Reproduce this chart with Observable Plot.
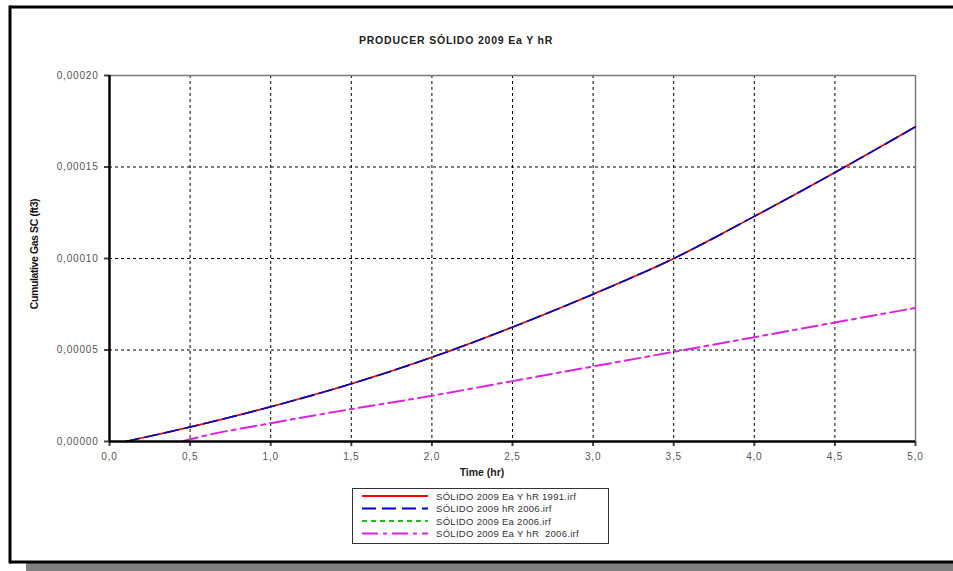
<!DOCTYPE html>
<html>
<head>
<meta charset="utf-8">
<script src="https://cdn.jsdelivr.net/npm/d3@7"></script>
<script src="https://cdn.jsdelivr.net/npm/@observablehq/plot@0.6"></script>
<style>
  html, body { margin: 0; padding: 0; background: #fff; }
  #chart { position: relative; width: 953px; height: 571px; overflow: hidden; }
  svg { font-family: "Liberation Sans", Arial, sans-serif; }
</style>
</head>
<body>
<div id="chart"></div>
<script>
// ---- data ----
const titleText = "PRODUCER SÓLIDO 2009 Ea Y hR";
const xLabel = "Time (hr)";
const yLabel = "Cumulative Gas SC (ft3)";
const xTicks = [0, 0.5, 1, 1.5, 2, 2.5, 3, 3.5, 4, 4.5, 5];
const yTicks = [0, 0.00005, 0.0001, 0.00015, 0.0002];

const seriesNames = [
  "SÓLIDO 2009 Ea Y hR 1991.irf",
  "SÓLIDO 2009 hR 2006.irf",
  "SÓLIDO 2009 Ea 2006.irf",
  "SÓLIDO 2009 Ea Y hR  2006.irf"
];
const seriesColors = ["#ff0000", "#0000cc", "#22bb22", "#dd22dd"];
const seriesDash = ["none", "14,6", "5,4", "16,5,4,5"];

const timeA = [0.1, 0.5, 1.0, 1.5, 2.0, 2.5, 3.0, 3.5, 4.0, 4.5, 5.0];
const gasA  = [0, 0.0000079, 0.000019, 0.0000315, 0.000046, 0.0000625, 0.0000805, 0.0001, 0.000123, 0.000147, 0.000172];
const timeB = [0.45, 0.5, 1.0, 1.5, 2.0, 2.5, 3.0, 3.5, 4.0, 4.5, 5.0];
const gasB  = [0, 0.0000012, 0.00001, 0.0000177, 0.000025, 0.000033, 0.000041, 0.000049, 0.000057, 0.000065, 0.000073];

// ---- build table ----
const rowsA = timeA.map((t, i) => ({t, v: gasA[i]}));
const rowsB = timeB.map((t, i) => ({t, v: gasB[i]}));
const comma = (f) => (d) => d3.format(f)(d).replace(".", ",");

const W = 953, H = 571;
const mL = 109, mR = 38, mT = 75, mB = 130;

const lineOpts = (k) => ({
  x: "t", y: "v", stroke: seriesColors[k], strokeWidth: k === 3 ? 2 : 1.6,
  strokeDasharray: seriesDash[k] === "none" ? null : seriesDash[k],
  curve: "monotone-x"
});

const plot = Plot.plot({
  width: W, height: H,
  marginLeft: mL, marginRight: mR, marginTop: mT, marginBottom: mB,
  style: {background: "transparent", fontSize: "10px", color: "#444"},
  x: {domain: [0, 5], ticks: xTicks, tickFormat: comma(".1f"), label: null},
  y: {domain: [0, 0.0002], ticks: yTicks, tickFormat: comma(".5f"), label: null},
  marks: [
    Plot.gridX(xTicks.filter(d => d > 0 && d < 5), {stroke: "#000", strokeOpacity: 1, strokeDasharray: "3,3", strokeWidth: 1}),
    Plot.gridY(yTicks.filter(d => d > 0 && d < 0.0002), {stroke: "#000", strokeOpacity: 1, strokeDasharray: "3,3", strokeWidth: 1}),
    Plot.ruleY([0.0002], {stroke: "#777", strokeWidth: 1.5}),
    Plot.ruleX([5], {stroke: "#777", strokeWidth: 1.5}),
    Plot.axisX({ticks: xTicks, tickFormat: comma(".1f"), tickSize: 5, tickPadding: 6, strokeWidth: 2, fill: "#555", fontSize: 10, label: null}),
    Plot.axisY({ticks: yTicks, tickFormat: comma(".5f"), tickSize: 5, tickPadding: 6, strokeWidth: 2, fill: "#555", fontSize: 10, label: null}),
    Plot.line(rowsA, lineOpts(2)),
    Plot.line(rowsA, lineOpts(0)),
    Plot.line(rowsA, lineOpts(1)),
    Plot.line(rowsB, lineOpts(3)),
    Plot.ruleX([0], {stroke: "#000", strokeWidth: 2.5}),
    Plot.ruleY([0], {stroke: "#000", strokeWidth: 2.5})
  ]
});

document.getElementById("chart").appendChild(plot);

const svg = d3.select(plot);
svg.selectAll("[aria-label='x-axis tick label'] text, [aria-label='y-axis tick label'] text").attr("letter-spacing", "0.8");

// outer frame
const frame = svg.append("g");
frame.append("rect").attr("x", 26).attr("y", 563).attr("width", W - 26).attr("height", 8).attr("fill", "#808080");
frame.append("line").attr("x1", 10).attr("x2", W).attr("y1", 7).attr("y2", 7).attr("stroke", "#000").attr("stroke-width", 3);
frame.append("line").attr("x1", 10).attr("x2", W).attr("y1", 562).attr("y2", 562).attr("stroke", "#000").attr("stroke-width", 3);
frame.append("line").attr("x1", 10).attr("x2", 10).attr("y1", 5.5).attr("y2", 563.5).attr("stroke", "#000").attr("stroke-width", 3);

// title and axis labels
svg.append("text").attr("x", 456).attr("y", 44).attr("text-anchor", "middle")
  .attr("font-size", 10.5).attr("font-weight", "bold").attr("letter-spacing", "0.8").attr("fill", "#222")
  .text(titleText);
svg.append("text").attr("x", 482).attr("y", 476).attr("text-anchor", "middle")
  .attr("font-size", 10.5).attr("font-weight", "bold").attr("fill", "#222")
  .text(xLabel);
svg.append("text").attr("transform", "translate(38,254) rotate(-90)").attr("text-anchor", "middle")
  .attr("font-family", "'Liberation Sans Narrow', 'Arial Narrow', sans-serif")
  .attr("font-size", 10.5).attr("font-weight", "bold").attr("letter-spacing", "-0.4").attr("fill", "#111")
  .text(yLabel);

// legend
const lg = svg.append("g");
lg.append("rect").attr("x", 352.5).attr("y", 488.5).attr("width", 256).attr("height", 55)
  .attr("fill", "#fff").attr("stroke", "#333").attr("stroke-width", 1);
seriesNames.forEach((name, i) => {
  const y = 496 + i * 12.5;
  lg.append("line").attr("x1", 362).attr("x2", 428).attr("y1", y).attr("y2", y)
    .attr("stroke", seriesColors[i]).attr("stroke-width", 1.8)
    .attr("stroke-dasharray", seriesDash[i] === "none" ? null : seriesDash[i]);
  lg.append("text").attr("x", 436).attr("y", y + 3.5).attr("font-size", 9.5)
    .attr("text-anchor", "start")
    .attr("letter-spacing", "0.3").attr("fill", "#333").text(name);
});
</script>
</body>
</html>
